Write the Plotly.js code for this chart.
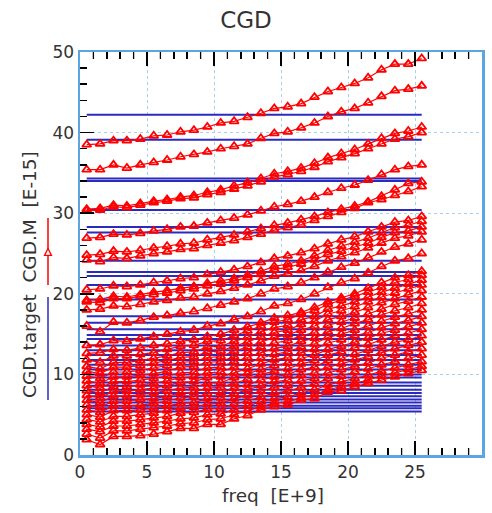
<!DOCTYPE html>
<html>
<head>
<meta charset="utf-8">
<script src="https://cdn.plot.ly/plotly-3.0.1.min.js"></script>
<style>html,body{margin:0;padding:0;background:#fff;}#chart{width:492px;height:513px;}</style>
</head>
<body>
<div id="chart"></div>
<script>
// frequency points [E+9]
const freq = [0.5,1.5,2.5,3.5,4.5,5.5,6.5,7.5,8.5,9.5,10.5,11.5,12.5,13.5,14.5,15.5,16.5,17.5,18.5,19.5,20.5,21.5,22.5,23.5,24.5,25.5];

// CGD.target levels [E-15] (flat over frequency)
const targetLevels = [42.2,39.1,34.3,34.0,30.4,28.3,27.6,24.1,22.7,22.2,21.1,19.3,17.2,16.4,15.6,14.9,14.4,13.6,13.0,12.4,11.8,11.2,10.6,10.0,9.6,9.0,8.6,8.1,7.7,7.3,6.9,6.5,6.1,5.8,5.4];

// CGD.M measured curves [E-15]
const m01 = [38.5,38.6,39.0,39.0,39.2,39.6,39.7,40.1,40.3,40.7,41.2,41.4,41.9,42.4,43.0,43.2,43.6,44.4,45.1,45.6,46.1,46.8,47.8,48.5,48.5,49.2];
const m02 = [35.4,35.4,36.0,35.6,36.0,36.3,36.6,37.0,37.3,37.6,38.0,38.3,38.6,39.3,39.9,40.1,40.6,41.2,42.0,42.6,43.0,43.7,44.5,45.2,45.4,45.8];
const m03 = [30.5,30.6,31.0,30.9,31.2,31.5,31.7,32.0,32.2,32.6,32.9,33.4,33.8,34.3,34.9,35.2,35.6,36.2,36.9,37.4,37.9,38.6,39.3,39.9,40.2,40.7];
const m04 = [30.3,30.4,30.8,30.7,31.0,31.3,31.5,31.8,31.9,32.3,32.6,33.0,33.4,33.9,34.5,34.8,35.2,35.7,36.4,36.9,37.4,38.0,38.6,39.2,39.5,40.0];
const m05 = [26.9,27.0,27.4,27.3,27.5,27.8,28.0,28.3,28.4,28.8,29.1,29.4,29.8,30.3,30.8,31.1,31.5,32.0,32.6,33.1,33.5,34.1,34.8,35.4,35.8,36.0];
const m06 = [24.8,24.9,25.3,25.2,25.4,25.7,25.9,26.2,26.3,26.7,27.0,27.3,27.7,28.1,28.5,28.8,29.2,29.6,30.1,30.5,30.9,31.4,32.1,32.9,33.7,33.9];
const m07 = [24.2,24.0,24.5,24.4,24.7,25.0,25.2,25.5,25.6,26.0,26.3,26.6,27.0,27.4,27.9,28.2,28.6,29.1,29.6,30.1,30.6,31.3,31.7,32.2,32.7,33.3];
const m08 = [20.5,20.6,21.0,20.9,21.1,21.4,21.6,21.9,22.0,22.4,22.7,23.0,23.4,23.9,24.4,24.7,25.1,25.6,26.2,26.7,27.1,27.7,28.3,28.9,29.1,29.6];
const m09 = [19.2,19.3,19.7,19.6,19.9,20.2,20.4,20.7,20.9,21.3,21.6,21.9,22.3,22.8,23.4,23.7,24.1,24.7,25.4,25.9,26.4,26.9,27.6,28.2,28.5,29.0];
const m10 = [19.0,18.9,19.4,19.4,19.7,19.9,20.1,20.4,20.6,21.0,21.2,21.6,22.0,22.4,23.0,23.3,23.7,24.2,24.9,25.3,25.8,26.3,27.0,27.6,27.8,28.3];
const m11 = [18.0,18.1,18.5,18.4,18.7,19.0,19.2,19.5,19.6,20.0,20.3,20.7,21.1,21.6,22.2,22.5,22.9,23.4,24.1,24.6,25.1,25.7,26.3,26.9,27.2,27.7];
const m12 = [16.0,15.3,16.5,16.4,16.7,17.1,17.3,17.6,17.8,18.2,18.6,19.0,19.4,20.0,20.6,20.9,21.4,22.0,22.7,23.3,23.8,24.5,25.2,25.8,26.2,26.7];
const m13 = [13.6,13.7,14.2,14.1,14.4,14.7,15.0,15.3,15.5,16.0,16.3,16.8,17.2,17.8,18.5,18.8,19.3,20.0,20.8,21.4,21.9,22.6,23.4,24.1,24.4,25.0];
const m14 = [12.6,12.7,13.1,13.0,13.3,13.6,13.8,14.1,14.3,14.7,15.0,15.5,15.9,16.4,17.0,17.3,17.7,18.3,19.0,19.5,20.0,20.7,21.4,22.0,22.3,22.8];
const m15 = [11.8,11.5,12.3,12.3,12.5,12.7,13.1,13.5,13.6,14.1,14.2,14.8,15.4,16.0,16.5,16.8,17.5,17.9,18.7,19.2,19.7,20.2,20.8,21.4,21.8,22.3];
const m16 = [11.0,10.7,11.5,11.5,11.7,12.0,12.3,12.7,12.8,13.4,13.5,14.1,14.6,15.3,15.8,16.1,16.8,17.2,18.1,18.5,19.0,19.6,20.2,20.7,21.2,21.7];
const m17 = [10.4,10.1,10.9,10.9,11.1,11.4,11.7,12.1,12.2,12.8,12.9,13.5,14.0,14.7,15.2,15.5,16.2,16.6,17.5,17.9,18.4,19.0,19.6,20.1,20.6,21.1];
const m18 = [9.8,9.5,10.3,10.3,10.5,10.8,11.1,11.5,11.6,12.1,12.2,12.9,13.4,14.0,14.6,14.9,15.5,16.0,16.8,17.2,17.7,18.3,18.9,19.4,19.9,20.4];
const m19 = [9.2,8.9,9.7,9.7,9.9,10.1,10.4,10.9,11.0,11.5,11.6,12.2,12.7,13.4,13.9,14.2,14.8,15.2,16.1,16.5,17.0,17.5,18.1,18.7,19.1,19.6];
const m20 = [8.6,8.3,9.1,9.1,9.3,9.5,9.8,10.2,10.3,10.8,10.9,11.6,12.1,12.7,13.2,13.5,14.1,14.5,15.3,15.7,16.3,16.8,17.4,17.9,18.3,18.8];
const m21 = [8.0,7.7,8.5,8.5,8.7,8.9,9.2,9.6,9.7,10.2,10.3,10.9,11.4,12.0,12.5,12.8,13.4,13.8,14.6,15.0,15.5,16.0,16.6,17.1,17.5,18.0];
const m22 = [7.4,7.1,7.9,7.9,8.1,8.3,8.6,9.0,9.1,9.6,9.7,10.2,10.7,11.3,11.8,12.1,12.7,13.1,13.9,14.3,14.8,15.2,15.8,16.3,16.7,17.2];
const m23 = [6.8,6.5,7.3,7.3,7.5,7.7,8.0,8.3,8.4,8.9,9.0,9.6,10.1,10.6,11.1,11.4,12.0,12.4,13.1,13.5,14.0,14.5,15.1,15.5,15.9,16.4];
const m24 = [6.2,5.9,6.7,6.7,6.9,7.0,7.3,7.7,7.8,8.3,8.4,8.9,9.4,10.0,10.4,10.7,11.3,11.7,12.4,12.8,13.3,13.7,14.3,14.8,15.1,15.6];
const m25 = [5.6,5.3,6.1,6.1,6.2,6.4,6.7,7.1,7.2,7.6,7.7,8.3,8.7,9.3,9.7,10.0,10.6,10.9,11.7,12.0,12.5,13.0,13.5,14.0,14.3,14.8];
const m26 = [5.0,4.7,5.5,5.5,5.6,5.8,6.1,6.4,6.5,7.0,7.1,7.6,8.1,8.6,9.1,9.3,9.9,10.2,10.9,11.3,11.8,12.2,12.7,13.2,13.6,14.0];
const m27 = [4.4,4.1,4.8,4.8,5.0,5.2,5.5,5.8,5.9,6.3,6.4,7.0,7.4,7.9,8.4,8.6,9.2,9.5,10.2,10.6,11.0,11.4,12.0,12.4,12.8,13.2];
const m28 = [3.8,3.5,4.2,4.2,4.4,4.6,4.8,5.2,5.3,5.7,5.8,6.3,6.7,7.2,7.7,7.9,8.4,8.8,9.5,9.8,10.3,10.7,11.2,11.6,12.0,12.4];
const m29 = [3.2,2.9,3.6,3.6,3.8,4.0,4.2,4.5,4.6,5.0,5.1,5.6,6.1,6.6,7.0,7.2,7.7,8.1,8.7,9.1,9.5,9.9,10.4,10.8,11.2,11.6];
const m30 = [2.6,2.1,3.0,3.0,3.2,3.4,3.6,3.9,4.0,4.4,4.5,5.0,5.5,6.0,6.4,6.6,7.1,7.5,8.1,8.5,8.9,9.3,9.8,10.2,10.6,11.0];
const m31 = [1.9,1.3,2.3,2.3,2.4,2.6,2.9,3.3,3.3,3.8,3.8,4.5,4.9,5.6,6.0,6.2,6.8,7.0,7.8,8.0,8.5,8.9,9.3,9.7,10.1,10.5];

const measured = [m01,m02,m03,m04,m05,m06,m07,m08,m09,m10,m11,m12,m13,m14,m15,m16,m17,m18,m19,m20,m21,m22,m23,m24,m25,m26,m27,m28,m29,m30,m31];

const BLUE = '#2a2ac0';
const RED = '#ff0000';
const X_RANGE = [0, 30];

const traces = [];
targetLevels.forEach(function(lv){
  traces.push({
    type:'scatter', mode:'lines', name:'CGD.target',
    x:[freq[0], freq[freq.length-1]], y:[lv, lv],
    line:{color:BLUE, width:2}, hoverinfo:'skip'
  });
});
measured.forEach(function(arr){
  traces.push({
    type:'scatter', mode:'lines+markers', name:'CGD.M',
    x:freq, y:arr,
    line:{color:RED, width:1.2},
    marker:{symbol:'triangle-up-open', size:8, color:RED, line:{color:RED, width:1.8}},
    hoverinfo:'skip'
  });
});

// legend-like glyphs next to the y title
const tri = {cx:-0.0796, cy:0.504, dx:0.0087, dy:0.0087};
const shapes = [
  {type:'line', xref:'paper', yref:'paper', x0:-0.0796, x1:-0.0796, y0:0.1365, y1:0.392, line:{color:BLUE, width:1.5}},
  {type:'line', xref:'paper', yref:'paper', x0:-0.0796, x1:-0.0796, y0:0.4218, y1:0.588, line:{color:RED, width:1.5}},
  {type:'path', xref:'paper', yref:'paper',
   path:'M '+(tri.cx-tri.dx)+','+(tri.cy-tri.dy)+' L '+(tri.cx+tri.dx)+','+(tri.cy-tri.dy)+' L '+tri.cx+','+(tri.cy+tri.dy)+' Z',
   fillcolor:'white', line:{color:RED, width:1.3}}
];

// inside tick marks along the frequency axis (bottom and top), placed on the x scale
for (let v = X_RANGE[0] + 1; v < X_RANGE[1]; v += 1) {
  const major = (v % 5 === 0);
  const len = major ? 14 : 7;
  const style = {color:'black', width: major ? 1.5 : 1.3, dash: major ? 'dot' : 'solid'};
  shapes.push({type:'line', xref:'x', yref:'paper', ysizemode:'pixel', yanchor:0,
               x0:v, x1:v, y0:0, y1:len, line:style, layer:'above'});
  shapes.push({type:'line', xref:'x', yref:'paper', ysizemode:'pixel', yanchor:1,
               x0:v, x1:v, y0:0, y1:-len, line:style, layer:'above'});
}

const layout = {
  width:492, height:513,
  margin:{l:80, r:10, t:52, b:58},
  showlegend:false,
  font:{family:'DejaVu Sans, sans-serif', color:'#333'},
  title:{text:'CGD', font:{size:23, color:'#333'}, x:0.5, xref:'container', xanchor:'center', y:0.961, yref:'container', yanchor:'middle'},
  xaxis:{
    range:X_RANGE, dtick:5, showline:true, linecolor:'#5aa5e2', linewidth:2.5, mirror:'ticks',
    ticks:'inside', ticklen:14, tickwidth:1.5, tickcolor:'black',
    minor:{dtick:1, ticks:'inside', ticklen:7, tickcolor:'black'},
    gridcolor:'#a9cff0', griddash:'dot', zeroline:false,
    tickfont:{size:17, color:'#333'}
  },
  yaxis:{
    range:[0,50], dtick:10, showline:true, linecolor:'#5aa5e2', linewidth:2.5, mirror:true,
    ticks:'inside', ticklen:14, tickwidth:1.5, tickcolor:'black',
    minor:{dtick:2, ticks:'inside', ticklen:7, tickcolor:'black'},
    gridcolor:'#a9cff0', griddash:'dot', zeroline:false,
    tickfont:{size:17, color:'#333'}
  },
  annotations:[
    {text:'CGD.target\u00a0\u00a0CGD.M\u00a0\u00a0[E-15]', textangle:-90,
     xref:'paper', yref:'paper', x:-0.127, y:0.449, xanchor:'center', yanchor:'middle',
     showarrow:false, font:{size:18.5, color:'#333'}},
    {text:'freq\u00a0\u00a0[E+9]',
     xref:'paper', yref:'paper', x:0.48, y:-0.1, xanchor:'center', yanchor:'middle',
     showarrow:false, font:{size:18.5, color:'#333'}}
  ],
  shapes:shapes
};

Plotly.newPlot('chart', traces, layout, {displayModeBar:false, staticPlot:true});
</script>
</body>
</html>
